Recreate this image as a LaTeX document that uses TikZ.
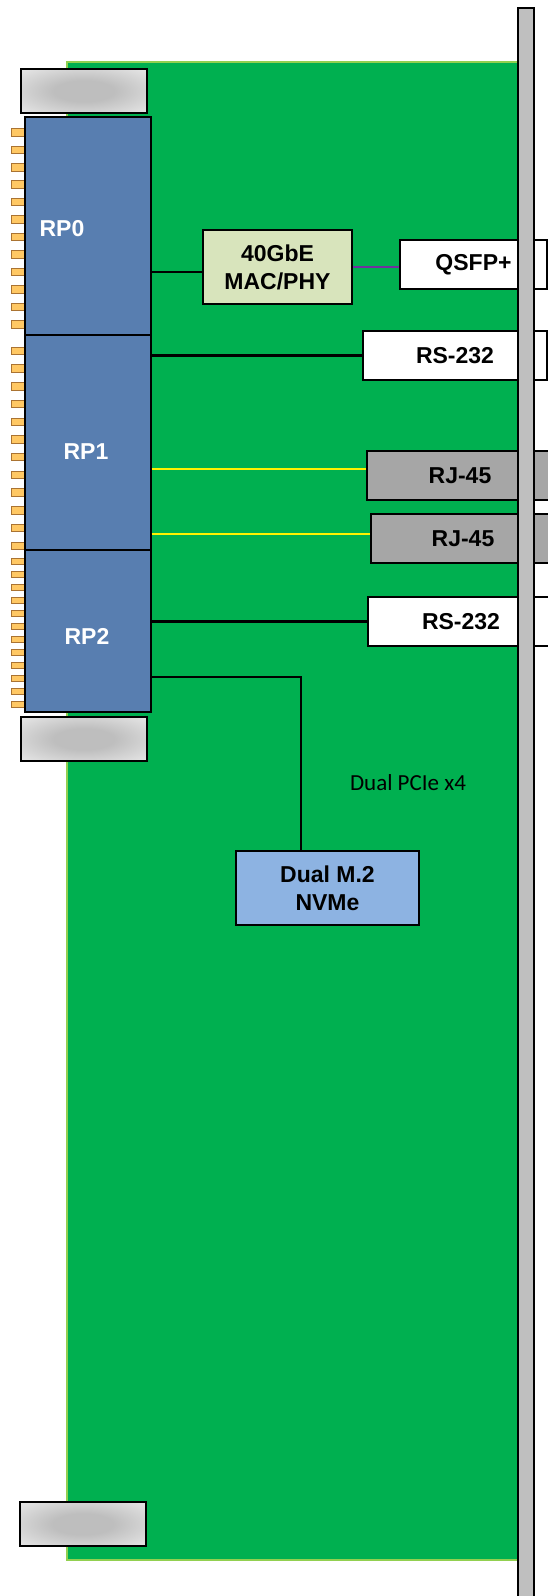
\documentclass[tikz,border=0pt]{standalone}
\usepackage{fontspec}
\setmainfont{Liberation Sans}
\newfontfamily\calibri{Carlito}
\definecolor{pcbgreen}{RGB}{0,176,80}
\definecolor{pcbedge}{RGB}{146,208,80}
\definecolor{rpblue}{RGB}{88,126,176}
\definecolor{macfill}{RGB}{216,228,188}
\definecolor{nvmefill}{RGB}{141,179,226}
\definecolor{pinfill}{RGB}{255,200,100}
\definecolor{pinedge}{RGB}{170,115,50}
\definecolor{rjgray}{RGB}{166,166,166}
\definecolor{panelgray}{RGB}{191,191,191}
\definecolor{latchgray}{RGB}{190,190,190}
\definecolor{latchlight}{RGB}{242,242,242}
\definecolor{wirepurple}{RGB}{112,48,160}
\pgfdeclareradialshading{latchshade}{\pgfpoint{0bp}{0bp}}{color(0bp)=(latchgray); color(12bp)=(latchgray); color(42bp)=(latchlight); color(50bp)=(latchlight)}
\begin{document}
\begin{tikzpicture}[x=1pt, y=-1pt,
  every node/.style={font=\bfseries\fontsize{23}{28}\selectfont, inner sep=0pt},
  b/.style={draw, line width=1.6pt, align=center},
  rp/.style={b, fill=rpblue, minimum width=126pt, line width=1.2pt},
  rplab/.style={text=white},
  port/.style={b, minimum height=49pt},
  latch/.style={draw, line width=1.4pt, shading=latchshade},
  pin/.style={draw=pinedge, fill=pinfill, line width=0.8pt},
  wire/.style={line width=2.2pt}]
  \useasboundingbox (0,0) rectangle (548,1596);
  % board and latches
  \draw[pcbedge, fill=pcbgreen, line width=1.2pt] (67,62) rectangle (518,1560);
  \draw[latch] (21,69) rectangle (147,113);
  \draw[latch] (21,717) rectangle (147,761);
  \draw[latch] (20,1502) rectangle (146,1546);
  % backplane pins
  \foreach \i in {0,...,11} {
    \draw[pin] (11,128.5+17.45*\i) rectangle ++(14,7.5);
    \draw[pin] (11,347+17.73*\i) rectangle ++(14,7.5);
    \draw[pin] (11,558.3+13*\i) rectangle ++(14,6);
  }
  % root ports
  \node[rp, minimum height=218pt] (rp0) at (88,226) {};
  \node[rp, minimum height=215pt] (rp1) at (88,442.5) {};
  \node[rp, minimum height=162pt] (rp2) at (88,631) {};
  \node[rplab] (rp0lab) at ([xshift=-26pt,yshift=-3pt]rp0.center) {RP0};
  \node[rplab] (rp1lab) at ([xshift=-2pt,yshift=-9.5pt]rp1.center) {RP1};
  \node[rplab] (rp2lab) at ([xshift=-1pt,yshift=-5pt]rp2.center) {RP2};
  % on-board devices
  \node[b, fill=macfill, minimum width=149pt, minimum height=74pt] (mac) at (277.5,267) {40GbE\\MAC/PHY};
  \node[b, fill=nvmefill, minimum width=183pt, minimum height=74pt] (nvme) at (327.5,888) {Dual M.2\\NVMe};
  \node[font=\calibri\fontsize{23}{28}\selectfont] (pcielab) at (408,783) {Dual PCIe x4};
  % front panel ports
  \node[port, fill=white, minimum width=147pt] (qsfp) at (473.5,264.5) {QSFP+};
  \node[port, fill=white, minimum width=184pt] (rs1) at (455,355.5) {RS-232};
  \node[port, fill=rjgray, minimum width=186pt] (rj1) at (460,475.5) {RJ-45};
  \node[port, fill=rjgray, minimum width=184pt] (rj2) at (463,538.5) {RJ-45};
  \node[port, fill=white, minimum width=186pt] (rs2) at (461,621.5) {RS-232};
  % links
  \coordinate (m0) at ([yshift=-5pt]mac.west);
  \coordinate (j1) at ([yshift=6.5pt]rj1.west);
  \coordinate (j2) at ([yshift=4.5pt]rj2.west);
  \coordinate (bend) at (301,677);
  \draw[wire] (rp0.east |- m0) -- (m0);
  \draw[wire, wirepurple] (mac.east) -- (mac.east -| qsfp.west);
  \draw[wire] (rp1.east |- rs1.west) -- (rs1.west);
  \draw[wire, yellow] (rp1.east |- j1) -- (j1);
  \draw[wire, yellow] (rp1.east |- j2) -- (j2);
  \draw[wire] (rp2.east |- rs2.west) -- (rs2.west);
  \draw[wire] (rp2.east |- bend) -- (bend) -- (bend |- nvme.north);
  % front panel
  \draw[fill=panelgray, line width=1.6pt] (518,8) rectangle (534,1610);
\end{tikzpicture}
\end{document}
